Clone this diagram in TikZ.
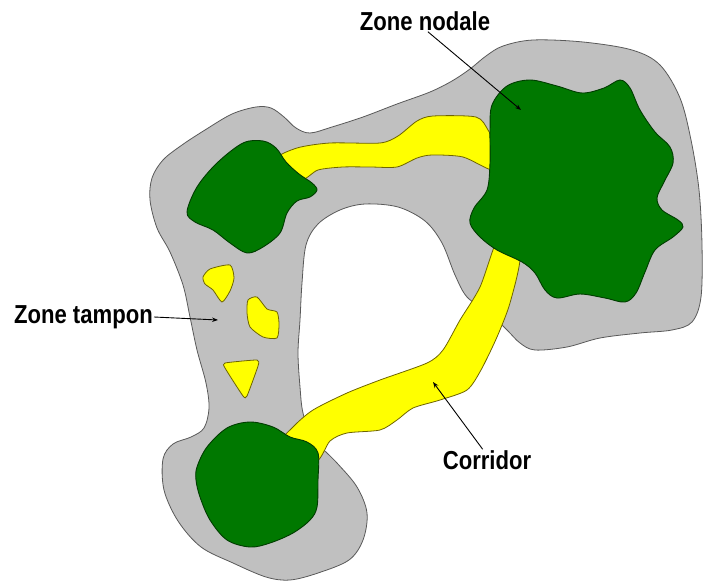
\documentclass[tikz,border=0pt]{standalone}
\usepackage{fontspec}
\usetikzlibrary{arrows.meta}
\newfontfamily\lblfont{Liberation Sans}[FakeStretch=0.85]
\definecolor{bufgray}{RGB}{192,192,192}
\definecolor{nodegreen}{RGB}{0,120,0}
\definecolor{nodeedge}{RGB}{0,60,0}
\definecolor{corryellow}{RGB}{255,255,0}
\definecolor{corredge}{RGB}{110,100,0}
\tikzset{
  buffer/.style={fill=bufgray, draw=black!65, line width=0.8pt},
  greenzone/.style={fill=nodegreen, draw=nodeedge, line width=0.9pt},
  yellowzone/.style={fill=corryellow, draw=corredge, line width=0.8pt},
  lbl/.style={font=\lblfont\bfseries\fontsize{26}{30}\selectfont, inner sep=1pt},
  pointer/.style={draw=black, line width=0.9pt, -{Stealth[length=6pt,width=4.5pt]}}
}
\begin{document}
\begin{tikzpicture}[x=1pt,y=-1pt]
\useasboundingbox (0,0) rectangle (703,585);
% buffer (gray)
\draw[buffer] plot[smooth cycle, tension=0.55] coordinates {
 (150,200) (152,178) (163,160) (182,145) (205,130) (232,114) (256,107) (271,108)
 (284,117) (296,128) (310,133) (332,127) (363,117) (397,104) (430,92) (452,81)
 (470,69) (486,56) (503,46) (533,40) (583,42) (632,50) (660,65) (680,98)
 (691,140) (699,190) (702,245) (701,297) (692,322) (672,330) (640,333)
 (600,338) (567,347) (535,350) (520,343) (507,330) (488,312) (467,297)
 (455,275) (442,243) (425,221) (398,207) (365,204) (340,210) (318,224)
 (306,245) (302,283) (300,320) (298,353) (300,387) (303,413) (312,437)
 (337,463) (357,487) (367,513) (363,540) (349,560) (318,573) (290,580)
 (266,577) (233,563) (201,547) (178,521) (164,490) (163,459) (173,444)
 (191,437) (204,428) (209,408) (206,383) (197,350) (190,317) (183,285)
 (170,252) (157,228)};
% corridors
\draw[yellowzone] plot[smooth cycle, tension=0.45] coordinates {
 (275,160) (297,148) (330,143) (380,143) (398,136) (417,121) (433,116)
 (476,117) (488,130) (497,150) (493,170) (463,157) (432,155) (417,158)
 (397,167) (370,167) (343,167) (318,170) (300,180)};
\draw[yellowzone] plot[smooth cycle, tension=0.45] coordinates {
 (500,235) (480,287) (460,320) (443,350) (427,363) (380,380) (347,393)
 (313,410) (293,427) (280,445) (315,462) (330,441) (347,433) (380,430)
 (397,420) (413,408) (440,400) (467,390) (481,370) (497,337) (510,303)
 (520,255)};
% green zones
\draw[greenzone] plot[smooth cycle, tension=0.55] coordinates {
 (187,212) (197,187) (217,163) (243,143) (263,141) (276,148) (286,162)
 (299,174) (312,183) (317,190) (310,197) (297,201) (287,213) (280,233)
 (263,247) (247,253) (230,243) (213,230) (195,222)};
\draw[greenzone] plot[smooth cycle, tension=0.55] coordinates {
 (492,105) (507,86) (530,80) (557,86) (582,93) (604,88) (620,80) (630,88)
 (640,110) (655,132) (670,147) (673,163) (664,182) (657,198) (662,210)
 (678,220) (683,227) (673,237) (655,250) (645,272) (636,293) (625,302)
 (605,298) (580,294) (557,298) (545,290) (535,273) (522,262) (497,250)
 (480,237) (470,223) (474,208) (487,190) (490,163) (490,130)};
\draw[greenzone] plot[smooth cycle, tension=0.55] coordinates {
 (197,467) (207,447) (227,428) (250,422) (273,427) (290,437) (307,442)
 (318,453) (318,480) (317,507) (310,520) (293,533) (270,543) (250,547)
 (227,540) (210,520) (200,497) (196,480)};
% small yellow patches in buffer
\draw[yellowzone] plot[smooth cycle, tension=0.4] coordinates {
 (203,277) (210,269) (230,265) (234,278) (230,291) (222,302) (213,290) (205,284)};
\draw[yellowzone] plot[smooth cycle, tension=0.4] coordinates {
 (248,300) (257,297) (267,309) (277,312) (279,324) (277,338) (263,337)
 (250,327) (247,313)};
\draw[yellowzone] plot[smooth cycle, tension=0.3] coordinates {
 (225,363) (257,360) (258,366) (247,396) (243,396) (225,368)};
% labels and pointers
\node[lbl] (nod) at (425,21) {Zone nodale};
\node[lbl, anchor=east] (tamp) at (154,317) {Zone tampon};
\node[lbl] (corr) at (487,460) {Corridor};
\coordinate (nodtip) at (521,110);
\coordinate (tamptip) at (218,320);
\coordinate (corrtip) at (433,382);
\draw[pointer] (nod.-75) -- (nodtip);
\draw[pointer] (tamp.east) -- (tamptip);
\draw[pointer] (corr.112) -- (corrtip);
\end{tikzpicture}
\end{document}
